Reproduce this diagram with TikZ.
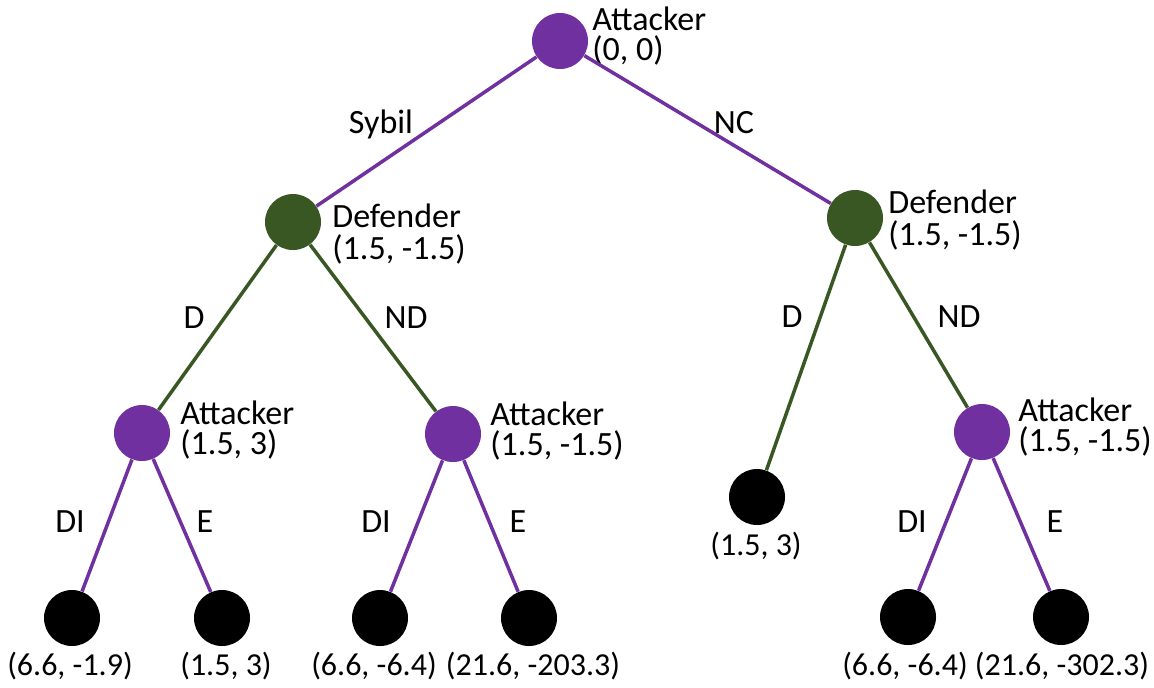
\documentclass[tikz,border=0pt]{standalone}
\usepackage{fontspec}
\setmainfont{Carlito}
\definecolor{attackpurple}{RGB}{112,48,160}
\definecolor{defendgreen}{RGB}{56,87,35}

\begin{document}
\begin{tikzpicture}[x=0.5pt, y=-0.5pt,
  font=\fontsize{17}{14.5}\selectfont,
  attacker/.style={circle, fill=attackpurple, minimum size=28pt, inner sep=0pt},
  defender/.style={circle, fill=defendgreen, minimum size=28pt, inner sep=0pt},
  outcome/.style={circle, fill=black, minimum size=28pt, inner sep=0pt},
  info/.style={anchor=base west, align=left, inner sep=0pt},
  payoff/.style={anchor=base, inner sep=0pt, font=\fontsize{16}{14}\selectfont},
  move/.style={anchor=base, inner sep=0pt},
  atkedge/.style={draw=attackpurple, line width=1.75pt},
  defedge/.style={draw=defendgreen, line width=1.75pt}]

\useasboundingbox (0,0) rectangle (1154,687);

%--- Root: Attacker ---
\node[attacker] (root) at (560,41) {};
\node[info] (rootinfo) at (592,60) {Attacker\\[0.5pt](0, 0)};

%--- Defenders ---
\node[defender] (defl) at (293,222) {};
\node[info] (deflinfo) at (332,259) {Defender\\[1.5pt](1.5, -1.5)};
\node[defender] (defr) at (855,218) {};
\node[info] (defrinfo) at (888,245) {Defender\\[1.5pt](1.5, -1.5)};

%--- Attackers, second move ---
\node[attacker] (atka) at (142,433) {};
\node[info] (atkainfo) at (180,454) {Attacker\\[0.5pt](1.5, 3)};
\node[attacker] (atkb) at (453,434) {};
\node[info] (atkbinfo) at (490,455) {Attacker\\[0.5pt](1.5, -1.5)};
\node[attacker] (atkc) at (982,432) {};
\node[info] (atkcinfo) at (1018,451) {Attacker\\[0.5pt](1.5, -1.5)};

%--- Outcomes ---
\node[outcome] (endd) at (757,497) {};
\node[payoff] (enddpay) at (756,555) {(1.5, 3)};

\node[outcome] (leafa) at (72,618) {};
\node[outcome] (leafb) at (222,618) {};
\node[outcome] (leafc) at (380,618) {};
\node[outcome] (leafd) at (529,618) {};
\node[outcome] (leafe) at (908,617) {};
\node[outcome] (leaff) at (1061,617) {};

\node[payoff] (leafapay) at (70,675) {(6.6, -1.9)};
\node[payoff] (leafbpay) at (226,675) {(1.5, 3)};
\node[payoff] (leafcpay) at (374,675) {(6.6, -6.4)};
\node[payoff] (leafdpay) at (533,675) {(21.6, -203.3)};
\node[payoff] (leafepay) at (905,675) {(6.6, -6.4)};
\node[payoff] (leaffpay) at (1062,675) {(21.6, -302.3)};

%--- Edges ---
\draw[atkedge] (root) -- (defl);
\draw[atkedge] (root) -- (defr);
\draw[defedge] (defl) -- (atka);
\draw[defedge] (defl) -- (atkb);
\draw[defedge] (defr) -- (endd);
\draw[defedge] (defr) -- (atkc);
\draw[atkedge] (atka) -- (leafa);
\draw[atkedge] (atka) -- (leafb);
\draw[atkedge] (atkb) -- (leafc);
\draw[atkedge] (atkb) -- (leafd);
\draw[atkedge] (atkc) -- (leafe);
\draw[atkedge] (atkc) -- (leaff);

%--- Move labels ---
\node[move] (sybil) at (381,133) {Sybil};
\node[move] (nc) at (734,133) {NC};
\node[move] (dl) at (194,328) {D};
\node[move] (ndl) at (406,328) {ND};
\node[move] (dr) at (792,327) {D};
\node[move] (ndr) at (959,327) {ND};
\node[move] (dia) at (70,532) {DI};
\node[move] (ea) at (205,532) {E};
\node[move] (dib) at (376,532) {DI};
\node[move] (eb) at (518,532) {E};
\node[move] (dic) at (912,532) {DI};
\node[move] (ec) at (1055,532) {E};

\end{tikzpicture}
\end{document}
